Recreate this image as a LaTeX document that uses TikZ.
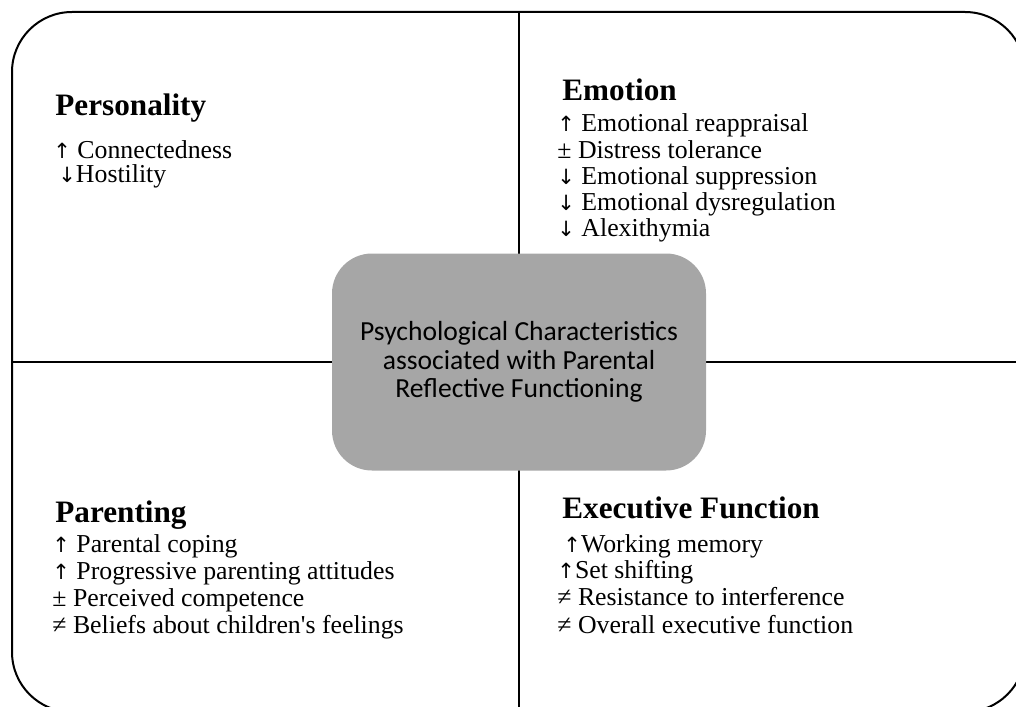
\documentclass[tikz,border=0pt]{standalone}
\usepackage{fontspec}
\setmainfont{Liberation Serif}[Ligatures=TeXOff]
\newfontfamily\boxfont{Carlito}
\newfontfamily\arrowfont{DejaVu Sans}

\definecolor{boxgray}{RGB}{166,166,166}

% heavier arrows for the lists
\newcommand{\incr}{{\arrowfont\fontsize{10.5}{12}\selectfont ↑}}
\newcommand{\decr}{{\arrowfont\fontsize{10.5}{12}\selectfont ↓}}

\tikzset{
  frame/.style={draw, line width=1pt, rounded corners=30pt, inner sep=0pt},
  divider/.style={draw, line width=1pt},
  head/.style={anchor=base west, inner sep=0pt, font=\fontsize{15.6}{18}\selectfont\bfseries},
  item/.style={anchor=base west, inner sep=0pt, font=\fontsize{12.9}{14}\selectfont},
  core/.style={fill=boxgray, rounded corners=20pt, minimum width=187pt, minimum height=108.5pt,
    align=center, inner sep=0pt, font=\boxfont\fontsize{13.8}{14.3}\selectfont}
}

\begin{document}
\begin{tikzpicture}[x=0.5pt,y=-0.5pt]
  \useasboundingbox (0,0) rectangle (1016,706);
  \clip (0,0) rectangle (1016,706);

  % outer frame, runs off the right and bottom edges
  \node[frame, minimum width=506.5pt, minimum height=350pt] (frame) at (518.5,362) {};

  % quadrant dividers
  \draw[divider] (frame.north) -- (frame.south);
  \draw[divider] (frame.west) -- (frame.east);

  % centre box
  \node[core] (pcrf) at (519,362) {Psychological Characteristics\\associated with Parental\\Reflective Functioning};

  % top left
  \node[head] (pers) at (55,115) {Personality};
  \node[item] (pers1) at (53,158) {\incr\ Connectedness};
  \node[item] (pers2) at (58,182) {\decr Hostility};

  % top right
  \node[head] (emo) at (562,100) {Emotion};
  \foreach \txt [count=\i] in {\incr\ Emotional reappraisal, ± Distress tolerance,
      \decr\ Emotional suppression, \decr\ Emotional dysregulation, \decr\ Alexithymia}
    \node[item] (emo\i) at (557,132+26.2*\i-26.2) {\txt};

  % bottom left
  \node[head] (par) at (55,522) {Parenting};
  \foreach \txt [count=\i] in {\incr\ Parental coping, \incr\ Progressive parenting attitudes,
      ± Perceived competence, ≠ Beliefs about children's feelings}
    \node[item] (par\i) at (52,552+27*\i-27) {\txt};

  % bottom right
  \node[head] (ef) at (562,518) {Executive Function};
  \node[item] (ef1) at (563,552) {\incr Working memory};
  \node[item] (ef2) at (557,578) {\incr Set shifting};
  \node[item] (ef3) at (557,605) {≠ Resistance to interference};
  \node[item] (ef4) at (557,633) {≠ Overall executive function};
\end{tikzpicture}
\end{document}
